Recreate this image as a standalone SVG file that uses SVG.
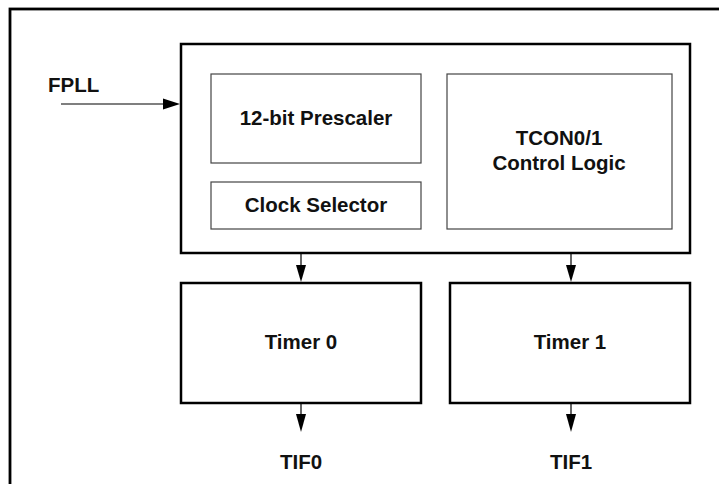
<svg xmlns="http://www.w3.org/2000/svg" width="719" height="484" viewBox="0 0 719 484">
  <style>
    .frame { fill: none; stroke: #000; stroke-width: 2.8; }
    .block { fill: #fff; stroke: #000; stroke-width: 2.5; }
    .sub { fill: #fff; stroke: #444; stroke-width: 1.2; }
    .wire { fill: none; stroke: #000; stroke-width: 1.2; }
    .head { fill: #000; }
    text { font-family: "Liberation Sans", Arial, sans-serif; font-weight: bold; font-size: 20.5px; fill: #111; }
    .mid { text-anchor: middle; }
  </style>

  <!-- page frame (extends past the right and bottom edges) -->
  <rect class="frame" x="10" y="9" width="740" height="500"/>

  <g id="timer-control">
    <rect class="block" x="181" y="44" width="509" height="209"/>
  </g>
  <g id="prescaler">
    <rect class="sub" x="211" y="74" width="210" height="89"/>
    <text class="mid" x="316" y="125">12-bit Prescaler</text>
  </g>
  <g id="clock-selector">
    <rect class="sub" x="211" y="182" width="210" height="47"/>
    <text class="mid" x="316" y="212">Clock Selector</text>
  </g>
  <g id="tcon-logic">
    <rect class="sub" x="447" y="74" width="225" height="155"/>
    <text class="mid" x="559" y="145">TCON0/1</text>
    <text class="mid" x="559" y="170">Control Logic</text>
  </g>
  <g id="timer0">
    <rect class="block" x="181" y="283" width="240" height="120"/>
    <text class="mid" x="301" y="349">Timer 0</text>
  </g>
  <g id="timer1">
    <rect class="block" x="450" y="283" width="240" height="120"/>
    <text class="mid" x="570" y="349">Timer 1</text>
  </g>
  <g id="fpll-label">
    <text x="48" y="92">FPLL</text>
  </g>
  <g id="tif0-label">
    <text class="mid" x="301" y="469">TIF0</text>
  </g>
  <g id="tif1-label">
    <text class="mid" x="571" y="469">TIF1</text>
  </g>

  <g id="connectors">
    <!-- FPLL into the control block -->
    <line class="wire" x1="61" y1="104" x2="165" y2="104"/>
    <polygon class="head" points="180,104 163,98.5 163,109.5"/>
    <!-- control block to timers -->
    <line class="wire" x1="301" y1="253" x2="301" y2="267"/>
    <polygon class="head" points="301,282 296,265 306,265"/>
    <line class="wire" x1="571" y1="253" x2="571" y2="267"/>
    <polygon class="head" points="571,282 566,265 576,265"/>
    <!-- timer outputs -->
    <line class="wire" x1="301" y1="403" x2="301" y2="416"/>
    <polygon class="head" points="301,432 296,414 306,414"/>
    <line class="wire" x1="571" y1="403" x2="571" y2="416"/>
    <polygon class="head" points="571,432 566,414 576,414"/>
  </g>
</svg>
